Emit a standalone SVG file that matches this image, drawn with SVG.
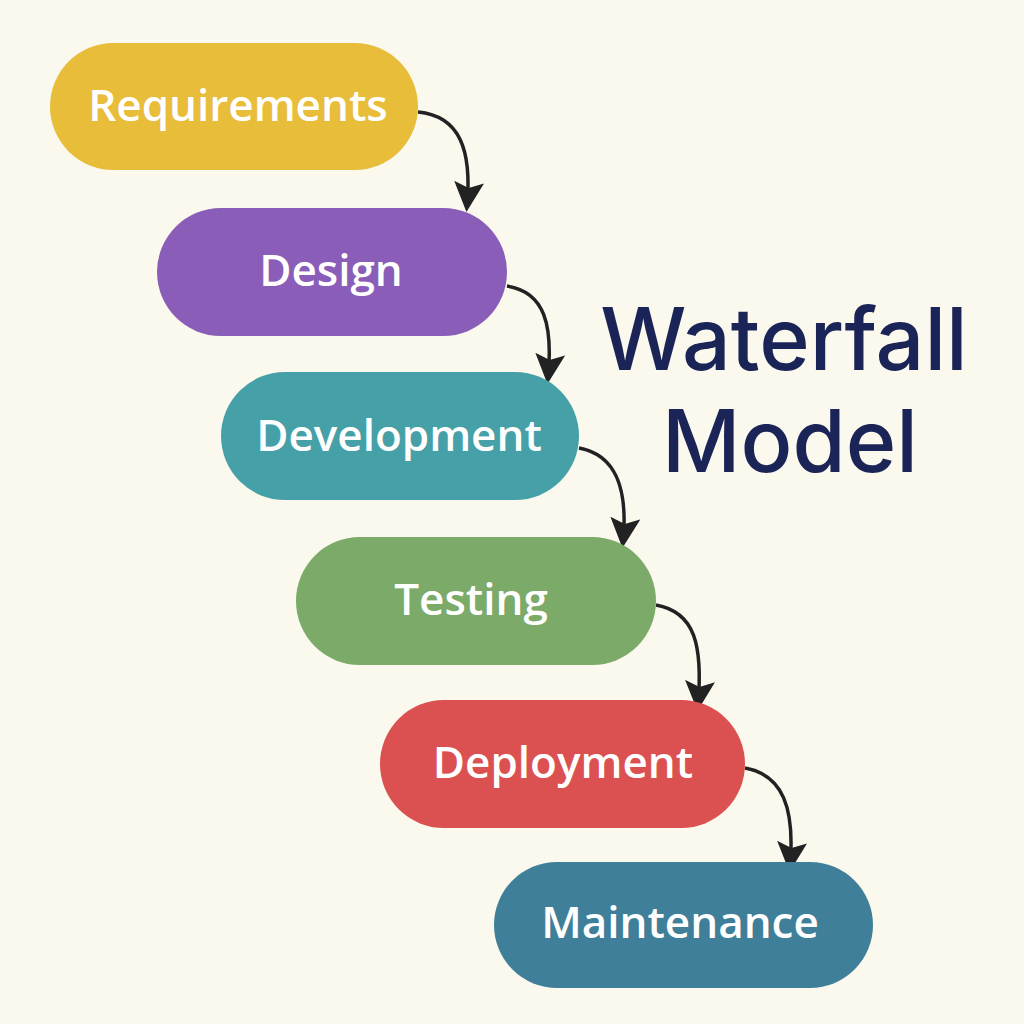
<svg xmlns="http://www.w3.org/2000/svg" width="1024" height="1024" viewBox="0 0 1024 1024">
<defs>
<marker id="a" viewBox="0 0 10 10" refX="8" refY="5" markerWidth="30" markerHeight="30" markerUnits="userSpaceOnUse" orient="auto"><path d="M0,0 L10,5 L0,10 L2,5 Z" fill="#222"/></marker>
</defs>
<style>
.n text{font-family:"Open Sans","Liberation Sans",sans-serif;font-weight:600;font-size:44px;fill:#fff;text-anchor:middle;dominant-baseline:central}
.c path{fill:none;stroke:#222;stroke-width:3.5;marker-end:url(#a)}
.t{font-family:"Inter","Liberation Sans",sans-serif;font-weight:500;font-size:86px;fill:#1B2456;text-anchor:middle}
</style>
<rect width="1024" height="1024" fill="#FBF8EE"/>
<g class="c">
<path d="M418,112 C460,116 472,150 467,206"/>
<path d="M507,286 C545,292 553,325 548,378"/>
<path d="M579,448 C617,455 628,490 623,542"/>
<path d="M656,605 C695,612 703,645 698,705"/>
<path d="M745,768 C783,775 795,808 790,866"/>
</g>
<g id="requirements" class="n"><rect x="50" y="43" width="368" height="127" rx="63.5" fill="#E8BD3A"/><text x="238" y="104">Requirements</text></g>
<g id="design" class="n"><rect x="157" y="208" width="350" height="128" rx="64" fill="#8A5DB8"/><text x="331" y="269">Design</text></g>
<g id="development" class="n"><rect x="221" y="372" width="358" height="128" rx="64" fill="#46A0A8"/><text x="399" y="434">Development</text></g>
<g id="testing" class="n"><rect x="296" y="537" width="360" height="128" rx="64" fill="#7BAA69"/><text x="471" y="598">Testing</text></g>
<g id="deployment" class="n"><rect x="380" y="700" width="365" height="128" rx="64" fill="#DB5050"/><text x="563" y="761">Deployment</text></g>
<g id="maintenance" class="n"><rect x="494" y="862" width="379" height="126" rx="63" fill="#3F7F99"/><text x="680" y="921">Maintenance</text></g>
<g id="title"><text class="t" x="784" y="370">Waterfall</text><text class="t" x="790" y="472">Model</text></g>
</svg>
